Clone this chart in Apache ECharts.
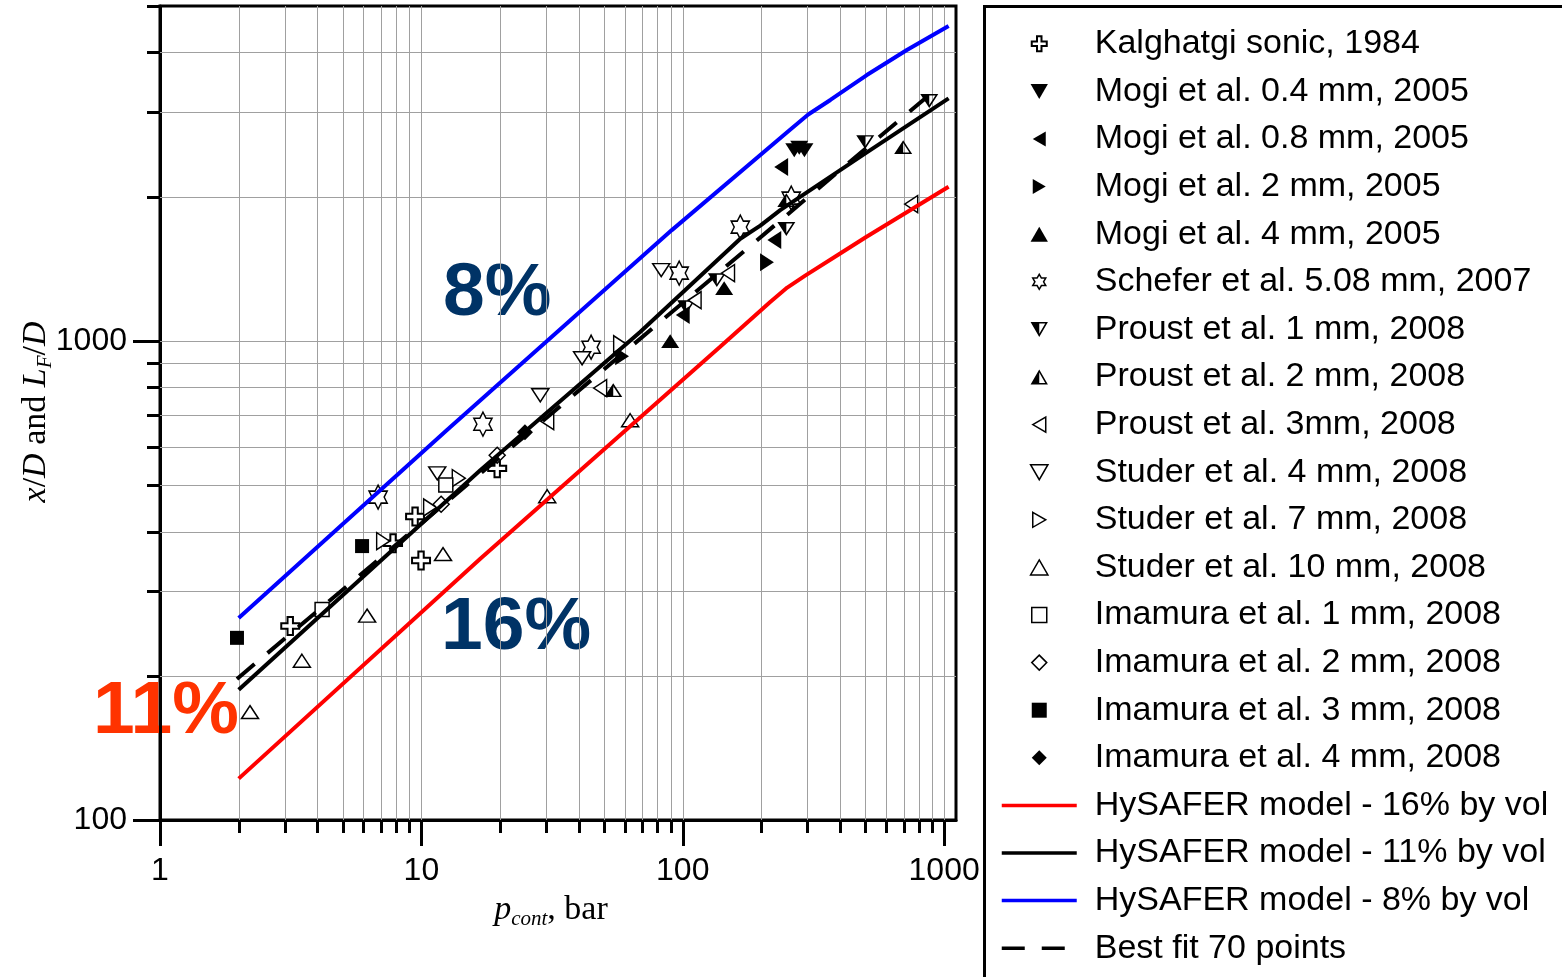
<!DOCTYPE html>
<html>
<head>
<meta charset="utf-8">
<title>Flame length vs storage pressure</title>
<script src="https://cdn.jsdelivr.net/npm/echarts@6/dist/echarts.min.js"></script>
<style>
  html, body { margin: 0; padding: 0; background: #fff; }
  #chart { width: 1562px; height: 977px; }
</style>
</head>
<body>
<div id="chart"></div>
<script>
// axis ranges and tick values
const xRange = [1, 1110]
const yRange = [100, 5000]
const xMajorTicks = [1, 10, 100, 1000]
const xMinorTicks = [2, 3, 4, 5, 6, 7, 8, 9, 20, 30, 40, 50, 60, 70, 80, 90, 200, 300, 400, 500, 600, 700, 800, 900]
const yMajorTicks = [100, 1000]
const yMinorTicks = [200, 300, 400, 500, 600, 700, 800, 900, 2000, 3000, 4000, 5000]

// experiments: [p_cont (bar), x/D]
const kalghatgi = [[3.15, 254], [7.79, 378], [9.46, 430], [9.97, 348], [19.5, 542]]
const mogi04 = [[267, 2500], [279, 2530], [292, 2500]]
const mogi08 = [[100, 1132], [224, 1623], [238, 2306]]
const mogi2 = [[58.6, 929], [210, 1460]]
const mogi4 = [[89.5, 999], [144, 1289]]
const schefer = [[6.83, 472], [17.2, 670], [44.6, 970], [96.9, 1385], [166, 1728], [260, 1986]]
const proust1 = [[103, 1176], [135, 1339], [249, 1712], [499, 2600], [877, 3167]]
const proust2 = [[54.2, 789], [249, 1967], [697, 2538]]
const proust3 = [[30.3, 680], [48.3, 797], [111, 1216], [149, 1385], [748, 1930]]
const studer4 = [[11.5, 529], [28.5, 770], [41.2, 920], [82.7, 1405]]
const studer7 = [[7.14, 382], [10.8, 449], [13.9, 517], [57.6, 984]]
const studer10 = [[2.21, 168], [3.49, 215], [6.2, 267], [12.1, 359], [30.3, 474], [62.9, 683]]
const imamura1 = [[4.17, 275], [12.4, 500]]
const imamura2 = [[11.9, 456], [19.5, 577]]
const imamura3 = [[1.97, 240], [5.93, 373]]
const imamura4 = [[24.9, 645]]

// model curves and fit
const hysafer16 = [[2, 122], [16.8, 351], [139, 972], [216, 1206], [251, 1292], [294, 1368], [400, 1522], [503, 1647], [1040, 2097]]
const hysafer11 = [[2, 187], [16.8, 537], [68.7, 1044], [166, 1634], [198, 1740], [236, 1875], [506, 2475], [1040, 3208]]
const hysafer8 = [[2, 264], [12.5, 651], [90.8, 1703], [258, 2763], [302, 2968], [367, 3183], [506, 3588], [720, 4048], [1040, 4543]]
const bestFit = [[1.97, 197], [900, 3300]]

const symbols = {
  cross: 'path://M7,0L13,0L13,7L20,7L20,13L13,13L13,20L7,20L7,13L0,13L0,7L7,7Z',
  triUp: 'path://M10,0L20,17.3L0,17.3Z',
  triDown: 'path://M0,0L20,0L10,17.3Z',
  triLeft: 'path://M0,10L17.3,0L17.3,20Z',
  triRight: 'path://M0,0L17.3,10L0,20Z',
  star: 'path://M10,0L12.89,5L18.66,5L15.77,10L18.66,15L12.89,15L10,20L7.11,15L1.34,15L4.23,10L1.34,5L7.11,5Z',
  // outline ring + left half filled
  halfDown: 'path://M0,0L20,0L10,17.3Z M3.12,1.8L10,13.7L16.88,1.8Z M0,0L10,0L10,17.3Z',
  halfUp: 'path://M10,0L20,17.3L0,17.3Z M10,3.6L3.12,15.52L16.88,15.52Z M10,0L10,17.3L0,17.3Z',
  square: 'path://M0,0L20,0L20,20L0,20Z',
  diamond: 'path://M10,0L20,10L10,20L0,10Z',
}

const markerDefs = [
  ['Kalghatgi sonic, 1984', kalghatgi, 'cross', [18, 18], 'open'],
  ['Mogi et al. 0.4 mm, 2005', mogi04, 'triDown', [18, 16], 'filled'],
  ['Mogi et al. 0.8 mm, 2005', mogi08, 'triLeft', [16, 18], 'filled'],
  ['Mogi et al. 2 mm, 2005', mogi2, 'triRight', [16, 18], 'filled'],
  ['Mogi et al. 4 mm, 2005', mogi4, 'triUp', [18, 16], 'filled'],
  ['Schefer et al. 5.08 mm, 2007', schefer, 'star', [21, 24], 'open'],
  ['Proust et al. 1 mm, 2008', proust1, 'halfDown', [18, 16], 'half'],
  ['Proust et al. 2 mm, 2008', proust2, 'halfUp', [18, 16], 'half'],
  ['Proust et al. 3mm, 2008', proust3, 'triLeft', [15, 17], 'open'],
  ['Studer et al. 4 mm, 2008', studer4, 'triDown', [17, 15], 'open'],
  ['Studer et al. 7 mm, 2008', studer7, 'triRight', [15, 17], 'open'],
  ['Studer et al. 10 mm, 2008', studer10, 'triUp', [17, 15], 'open'],
  ['Imamura et al. 1 mm, 2008', imamura1, 'square', [14, 14], 'open'],
  ['Imamura et al. 2 mm, 2008', imamura2, 'diamond', [16, 16], 'open'],
  ['Imamura et al. 3 mm, 2008', imamura3, 'square', [14, 14], 'filled'],
  ['Imamura et al. 4 mm, 2008', imamura4, 'diamond', [16, 16], 'filled'],
]

const lineDefs = [
  ['HySAFER model - 16% by vol', hysafer16, '#ff0000', 'solid'],
  ['HySAFER model - 11% by vol', hysafer11, '#000000', 'solid'],
  ['HySAFER model - 8% by vol', hysafer8, '#0000ff', 'solid'],
  ['Best fit 70 points', bestFit, '#000000', [23, 17]],
]

const isPow10 = (v) => Math.abs(Math.log10(v) - Math.round(Math.log10(v))) < 1e-6

const seg = (x1, y1, x2, y2, stroke, width) => ({
  type: 'line',
  shape: { x1, y1, x2, y2 },
  style: { stroke, lineWidth: width },
})

// grid lines + outward ticks, placed through the axes' own log scales
const tickSeries = (dim, values, len) => ({
  type: 'custom',
  silent: true,
  clip: false,
  z: 1,
  data: values.map((v) => (dim === 'x' ? [v, yRange[0]] : [xRange[0], v])),
  renderItem: (params, api) => {
    const cs = params.coordSys
    const p = api.coord([api.value(0), api.value(1)])
    const children = []
    if (dim === 'x') {
      const v = api.value(0)
      const x = Math.round(p[0]) + 0.5
      const bottom = cs.y + cs.height
      if (v > xRange[0] && v < xRange[1]) children.push(seg(x, cs.y, x, bottom, '#a0a0a0', 1))
      children.push(seg(x, bottom, x, bottom + len, '#000', 3))
    } else {
      const v = api.value(1)
      const y = Math.round(p[1]) + 0.5
      if (v > yRange[0] && v < yRange[1]) children.push(seg(cs.x, y, cs.x + cs.width, y, '#a0a0a0', 1))
      children.push(seg(cs.x - len, y, cs.x, y, '#000', 3))
    }
    return { type: 'group', children }
  },
})

const markerSeries = markerDefs.map(([name, data, sym, size, kind]) => ({
  name,
  type: 'scatter',
  data,
  symbol: symbols[sym],
  symbolSize: size,
  symbolKeepAspect: true,
  z: 2,
  itemStyle: kind === 'open'
    ? { color: '#fff', borderColor: '#000', borderWidth: sym === 'cross' ? 2 : 1.5, opacity: 1 }
    : { color: '#000', borderWidth: 0, opacity: 1 },
}))

const lineSeries = lineDefs.map(([name, data, color, type]) => ({
  name,
  type: 'line',
  data,
  symbol: 'none',
  showSymbol: false,
  z: 3,
  color,
  lineStyle: { color, width: 4, type },
}))

const legendData = [
  ...markerDefs.map(([name, , sym, , kind]) => ({
    name,
    itemStyle: { borderWidth: kind === 'open' ? (sym === 'cross' ? 2 : 1.5) : 0, opacity: 1 },
  })),
  ...lineDefs.map(([name]) => ({ name, itemStyle: { opacity: 0 }, lineStyle: { width: 3.5 } })),
]

const axisLabel = {
  formatter: (v) => (isPow10(v) ? String(Math.round(v)) : ''),
  fontFamily: 'Liberation Sans',
  fontSize: 32,
  color: '#000',
}

const titleRich = {
  i: { fontFamily: 'Liberation Serif', fontStyle: 'italic', fontSize: 34, lineHeight: 40, fill: '#000' },
  r: { fontFamily: 'Liberation Serif', fontSize: 34, lineHeight: 40, fill: '#000' },
  s: { fontFamily: 'Liberation Serif', fontStyle: 'italic', fontSize: 21, lineHeight: 21, verticalAlign: 'bottom', fill: '#000' },
}

const option = {
  animation: false,
  backgroundColor: '#fff',
  textStyle: { fontFamily: 'Liberation Sans' },
  grid: {
    left: 160,
    top: 6,
    right: 606,
    bottom: 157,
    show: true,
    borderColor: '#000',
    borderWidth: 3,
    backgroundColor: 'transparent',
  },
  xAxis: {
    type: 'log',
    min: xRange[0],
    max: xRange[1],
    axisLine: { lineStyle: { color: '#000', width: 3 } },
    axisTick: { show: false },
    splitLine: { show: false },
    axisLabel: { ...axisLabel, margin: 35 },
  },
  yAxis: {
    type: 'log',
    min: yRange[0],
    max: yRange[1],
    axisLine: { lineStyle: { color: '#000', width: 3 } },
    axisTick: { show: false },
    splitLine: { show: false },
    axisLabel: { ...axisLabel, margin: 33 },
  },
  legend: {
    orient: 'vertical',
    left: 1000,
    top: 20,
    padding: 0,
    itemGap: 0,
    itemWidth: 75,
    itemHeight: 15,
    selectedMode: false,
    data: legendData,
    lineStyle: { width: 3.5 },
    textStyle: {
      fontFamily: 'Liberation Sans',
      fontSize: 34,
      color: '#000',
      lineHeight: 47.6,
      padding: [0, 0, 0, 13],
    },
  },
  graphic: [
    {
      type: 'rect',
      silent: true,
      shape: { x: 984.5, y: 6.5, width: 700, height: 1100 },
      style: { fill: 'none', stroke: '#000', lineWidth: 3 },
    },
    {
      type: 'text', silent: true, x: 443, y: 294,
      style: { text: '8%', fontFamily: 'Liberation Sans', fontWeight: 'bold', fontSize: 75, fill: '#003366', verticalAlign: 'middle' },
    },
    {
      type: 'text', silent: true, x: 441, y: 628,
      style: { text: '16%', fontFamily: 'Liberation Sans', fontWeight: 'bold', fontSize: 75, fill: '#003366', verticalAlign: 'middle' },
    },
    {
      type: 'text', silent: true, x: 93, y: 712,
      style: { text: '11%', fontFamily: 'Liberation Sans', fontWeight: 'bold', fontSize: 75, fill: '#ff3300', verticalAlign: 'middle' },
    },
    {
      type: 'text', silent: true, x: 551, y: 910,
      style: { text: '{i|p}{s|cont}{r|, bar}', align: 'center', verticalAlign: 'middle', rich: titleRich },
    },
    {
      type: 'text', silent: true, x: 36, y: 412, rotation: Math.PI / 2,
      style: { text: '{i|x}{r|/}{i|D}{r| and }{i|L}{s|F}{r|/}{i|D}', align: 'center', verticalAlign: 'middle', rich: titleRich },
    },
  ],
  series: [
    tickSeries('x', xMajorTicks, 26),
    tickSeries('x', xMinorTicks, 13),
    tickSeries('y', yMajorTicks, 27),
    tickSeries('y', yMinorTicks, 13),
    ...markerSeries,
    ...lineSeries,
  ],
}

const chart = echarts.init(document.getElementById('chart'))
chart.setOption(option)
</script>
</body>
</html>
